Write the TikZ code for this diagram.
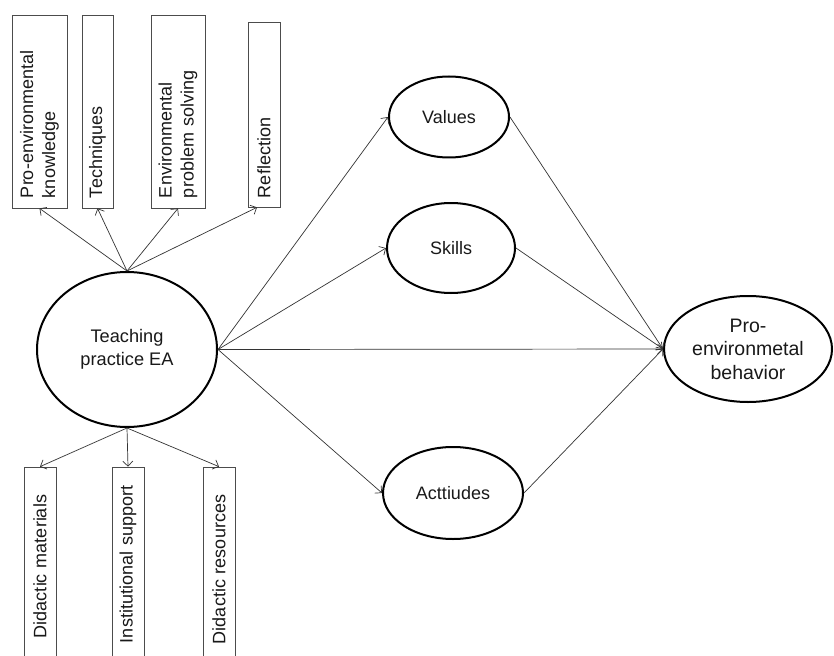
\documentclass[tikz,border=0pt]{standalone}
\usepackage{fontspec}
\setmainfont{Liberation Sans}
\usetikzlibrary{shapes.geometric,arrows.meta}
\begin{document}
\begin{tikzpicture}[x=1pt,y=-1pt,
  conn/.style={draw=black!80, line width=0.7pt, -{Straight Barb[length=5pt,width=10pt]}},
  oval/.style={ellipse, draw=black, line width=2pt, align=center, inner sep=0pt, text=black!90},
  bigtext/.style={font=\fontsize{19.5}{23.5}\selectfont},
  midtext/.style={font=\fontsize{18.2}{23}\selectfont},
  smalltext/.style={font=\fontsize{18}{22}\selectfont},
  vbox/.style={draw=black!70, line width=0.7pt, rotate=90, align=left, inner ysep=0pt,
    text=black!90, font=\fontsize{18}{22}\selectfont}
]
\useasboundingbox (0,0) rectangle (834,655);
\fill[white] (0,0) rectangle (834,655);

% central ellipse
\node[oval, midtext, minimum width=180pt, minimum height=155pt] (T) at (127,349.5) {Teaching\\practice EA};

% top boxes
\node[vbox, minimum height=55pt, text width=173pt, inner xsep=10pt] (b1) at (39.5,111.5) {Pro-environmental\\knowledge};
\node[vbox, minimum height=31pt, text width=173pt, inner xsep=10pt] (b2) at (97.5,111.5) {Techniques};
\node[vbox, minimum height=54pt, text width=173pt, inner xsep=10pt] (b3) at (178,111.5) {Environmental\\problem solving};
\node[vbox, minimum height=32pt, text width=167pt, inner xsep=9pt] (b4) at (264,114.5) {Reflection};

% bottom boxes
\node[vbox, minimum height=32pt, text width=153pt, inner xsep=18pt] (b5) at (40,561.5) {Didactic materials};
\node[vbox, minimum height=32pt, text width=163pt, inner xsep=13pt] (b6) at (128,561.5) {Institutional support};
\node[vbox, minimum height=32pt, text width=165pt, inner xsep=12pt] (b7) at (219,561.5) {Didactic resources};

% right ellipses
\node[oval, smalltext, minimum width=120pt, minimum height=81pt] (V) at (449,117) {Values};
\node[oval, smalltext, minimum width=128pt, minimum height=90pt] (S) at (451,248) {Skills};
\node[oval, smalltext, minimum width=140pt, minimum height=92pt] (A) at (453,493) {Acttiudes};
\node[oval, bigtext, minimum width=168pt, minimum height=106pt] (P) at (748,349) {Pro-\\environmetal\\behavior};

% connectors
\draw[conn] (T.north) -- (b1.west);
\draw[conn] (T.north) -- (b2.west);
\draw[conn] (T.north) -- (b3.west);
\draw[conn] (T.north) -- ([xshift=-7pt]b4.west);
\draw[conn] (T.south) -- (b5.east);
\draw[conn] (T.south) -- (b6.east);
\draw[conn] (T.south) -- (b7.east);
\draw[conn] (T.east) -- (V.west);
\draw[conn] (T.east) -- (S.west);
\draw[conn] (T.east) -- (P.west);
\draw[conn] (T.east) -- (A.west);
\draw[conn] (V.east) -- (P.west);
\draw[conn] (S.east) -- (P.west);
\draw[conn] (A.east) -- (P.west);
\end{tikzpicture}
\end{document}
